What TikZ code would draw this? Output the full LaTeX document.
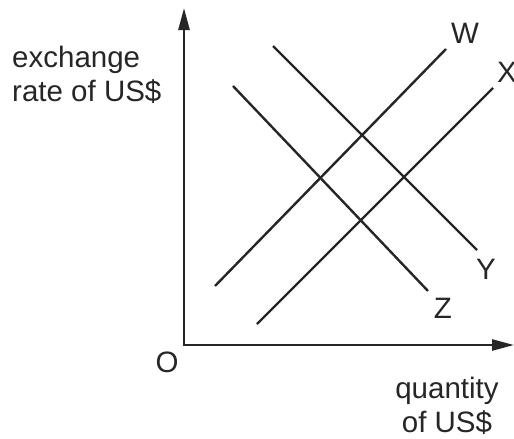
\documentclass[tikz,border=0pt]{standalone}
\usepackage{fontspec}
\setmainfont{Liberation Sans}
\usetikzlibrary{arrows.meta}
\begin{document}
\begin{tikzpicture}[x=1pt,y=-1pt,
  axis/.style={line width=2.6pt,-{Triangle[length=22pt,width=11pt]}},
  curve/.style={line width=2.4pt},
  lbl/.style={font=\fontsize{29.5}{34}\selectfont,inner sep=0pt,text=black!85},
  ]
\useasboundingbox (0,0) rectangle (514,439);
\coordinate (o) at (184,345);
\coordinate (ytip) at (184,8);
\coordinate (xtip) at (514,345);
\draw[axis,black!85] (o) -- (ytip);
\draw[axis,black!85] ([xshift=-1.3pt]o) -- (xtip);
\coordinate (w1) at (215,286); \coordinate (w2) at (446,49);
\coordinate (x1) at (257,324); \coordinate (x2) at (493,88);
\coordinate (z1) at (233,86); \coordinate (z2) at (428,291);
\coordinate (y1) at (273,46); \coordinate (y2) at (477,250);
\draw[curve,black!85] (w1) -- (w2);
\draw[curve,black!85] (x1) -- (x2);
\draw[curve,black!85] (z1) -- (z2);
\draw[curve,black!85] (y1) -- (y2);
\node[lbl] (W) at (465,33) {W};
\node[lbl] (X) at (507,72) {X};
\node[lbl] (Y) at (486,269) {Y};
\node[lbl] (Z) at (443,308) {Z};
\node[lbl] (O) at (167,362) {O};
\node[lbl,anchor=base west] (ylab1) at (12,67) {exchange};
\node[lbl,anchor=base west] (ylab2) at (12,101) {rate of US\$};
\node[lbl,anchor=base] (xlab1) at (447,398) {quantity};
\node[lbl,anchor=base] (xlab2) at (447,432) {of US\$};
\end{tikzpicture}
\end{document}
